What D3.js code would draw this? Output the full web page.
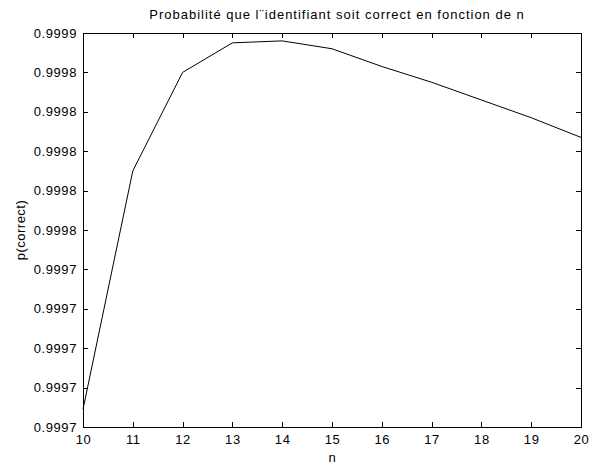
<!DOCTYPE html>
<html>
<head>
<meta charset="utf-8">
<script src="https://cdn.jsdelivr.net/npm/d3@7"></script>
<style>
  body { margin: 0; background: #fff; }
  svg { display: block; }
  text { font-family: "Liberation Sans", Arial, sans-serif; fill: #000; }
</style>
</head>
<body>
<svg id="chart" width="589" height="466"></svg>
<script>
const nValues = [10, 11, 12, 13, 14, 15, 16, 17, 18, 19, 20];
const pCorrect = [0.999669, 0.99979, 0.99984, 0.999855, 0.999856, 0.999852, 0.999843, 0.999835, 0.999826, 0.999817, 0.999807];
const xTicks = [10, 11, 12, 13, 14, 15, 16, 17, 18, 19, 20];
const yTicks = [0.99966, 0.99968, 0.9997, 0.99972, 0.99974, 0.99976, 0.99978, 0.9998, 0.99982, 0.99984, 0.99986];
const titleText = "Probabilité que l¨identifiant soit correct en fonction de n";
const xLabel = "n";
const yLabel = "p(correct)";

const svg = d3.select("#chart");
const L = 83, R = 581, T = 33, B = 427;

const x = d3.scaleLinear().domain([10, 20]).range([L, R]);
const y = d3.scaleLinear().domain([0.99966, 0.99986]).range([B, T]);

const fmt = d3.format(".4f");
const tickLen = 5;

// frame
svg.append("rect").attr("x", L).attr("y", T).attr("width", R - L).attr("height", B - T)
  .attr("fill", "none").attr("stroke", "#000").attr("stroke-width", 1)
  .attr("shape-rendering", "crispEdges");

// bottom axis
const xb = svg.append("g").attr("transform", `translate(0,${B})`)
  .call(d3.axisBottom(x).tickValues(xTicks).tickFormat(d3.format("d")).tickSizeInner(-tickLen).tickSizeOuter(0).tickPadding(8));
// top axis (ticks only)
const xt = svg.append("g").attr("transform", `translate(0,${T})`)
  .call(d3.axisTop(x).tickValues(xTicks).tickFormat("").tickSizeInner(-tickLen).tickSizeOuter(0));
// left axis
const yl = svg.append("g").attr("transform", `translate(${L},0)`)
  .call(d3.axisLeft(y).tickValues(yTicks).tickFormat(fmt).tickSizeInner(-tickLen).tickSizeOuter(0).tickPadding(6));
// right axis (ticks only)
const yr = svg.append("g").attr("transform", `translate(${R},0)`)
  .call(d3.axisRight(y).tickValues(yTicks).tickFormat("").tickSizeInner(-tickLen).tickSizeOuter(0));

[xb, xt, yl, yr].forEach(g => {
  g.select(".domain").remove();
  g.selectAll("line").attr("stroke", "#000").attr("shape-rendering", "crispEdges");
  g.selectAll("text").attr("font-family", "'Liberation Sans', Arial, sans-serif").attr("font-size", 13)
    .attr("letter-spacing", 0.6).attr("fill", "#111");
});

// line
const line = d3.line().x((d, i) => x(nValues[i])).y(d => y(d));
svg.append("path").datum(pCorrect).attr("d", line)
  .attr("fill", "none").attr("stroke", "#000").attr("stroke-width", 1);

// title
svg.append("text").attr("x", (L + R) / 2 + 5).attr("y", 19).attr("text-anchor", "middle")
  .attr("font-size", 13).attr("letter-spacing", 1.0).attr("fill", "#111").text(titleText);
// x label
svg.append("text").attr("x", (L + R) / 2).attr("y", 462).attr("text-anchor", "middle")
  .attr("font-size", 13).attr("fill", "#111").text(xLabel);
// y label
svg.append("text").attr("transform", `translate(25,${(T + B) / 2}) rotate(-90)`).attr("text-anchor", "middle")
  .attr("font-size", 13).attr("letter-spacing", 0.5).attr("fill", "#111").text(yLabel);
</script>
</body>
</html>
